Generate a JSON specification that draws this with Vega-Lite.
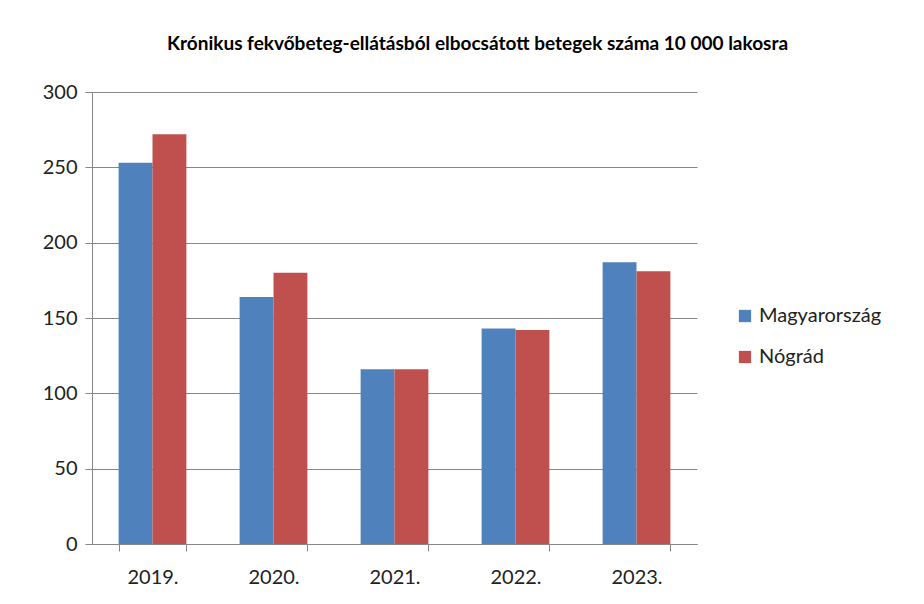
{
  "$schema": "https://vega.github.io/schema/vega-lite/v6.json",
  "autosize": "none",
  "width": 605,
  "height": 452,
  "padding": {"left": 92, "top": 92, "right": 227, "bottom": 60},
  "background": "white",
  "title": {
    "text": "Krónikus fekvőbeteg-ellátásból elbocsátott betegek száma 10 000 lakosra",
    "anchor": "middle",
    "frame": "group",
    "dx": 83,
    "offset": 28,
    "fontSize": 19,
    "font": "Lato, sans-serif",
    "fontWeight": "bold",
    "color": "#000000"
  },
  "data": {
    "values": [
      {"ev": "2019.", "terulet": "Magyarország", "ertek": 253},
      {"ev": "2019.", "terulet": "Nógrád", "ertek": 272},
      {"ev": "2020.", "terulet": "Magyarország", "ertek": 164},
      {"ev": "2020.", "terulet": "Nógrád", "ertek": 180},
      {"ev": "2021.", "terulet": "Magyarország", "ertek": 116},
      {"ev": "2021.", "terulet": "Nógrád", "ertek": 116},
      {"ev": "2022.", "terulet": "Magyarország", "ertek": 143},
      {"ev": "2022.", "terulet": "Nógrád", "ertek": 142},
      {"ev": "2023.", "terulet": "Magyarország", "ertek": 187},
      {"ev": "2023.", "terulet": "Nógrád", "ertek": 181}
    ]
  },
  "mark": {"type": "bar"},
  "encoding": {
    "x": {
      "field": "ev",
      "type": "nominal",
      "sort": null,
      "scale": {"paddingInner": 0.44, "paddingOuter": 0.22},
      "axis": {
        "title": null,
        "labelAngle": 0,
        "labelFontSize": 20,
        "labelFont": "Lato, sans-serif",
        "labelColor": "#222222",
        "labelPadding": 16,
        "tickBand": "extent",
        "tickSize": 7,
        "tickColor": "#868686",
        "domainColor": "#868686",
        "grid": false
      }
    },
    "xOffset": {"field": "terulet", "type": "nominal", "sort": ["Magyarország", "Nógrád"]},
    "y": {
      "field": "ertek",
      "type": "quantitative",
      "scale": {"domain": [0, 300], "nice": false},
      "axis": {
        "title": null,
        "values": [0, 50, 100, 150, 200, 250, 300],
        "labelFontSize": 20,
        "labelFont": "Lato, sans-serif",
        "labelColor": "#222222",
        "labelPadding": 8,
        "tickSize": 7,
        "tickColor": "#868686",
        "domainColor": "#868686",
        "gridColor": "#868686",
        "gridWidth": 1
      }
    },
    "color": {
      "field": "terulet",
      "type": "nominal",
      "sort": ["Magyarország", "Nógrád"],
      "scale": {"domain": ["Magyarország", "Nógrád"], "range": ["#4F81BD", "#C0504D"]},
      "legend": {
        "title": null,
        "orient": "none",
        "legendX": 643,
        "legendY": 214,
        "symbolType": "square",
        "symbolSize": 150,
        "symbolStrokeWidth": 0,
        "symbolOpacity": 1,
        "labelFontSize": 20,
        "labelFont": "Lato, sans-serif",
        "labelColor": "#222222",
        "labelOffset": 4,
        "rowPadding": 21
      }
    }
  },
  "config": {"view": {"stroke": null}}
}
